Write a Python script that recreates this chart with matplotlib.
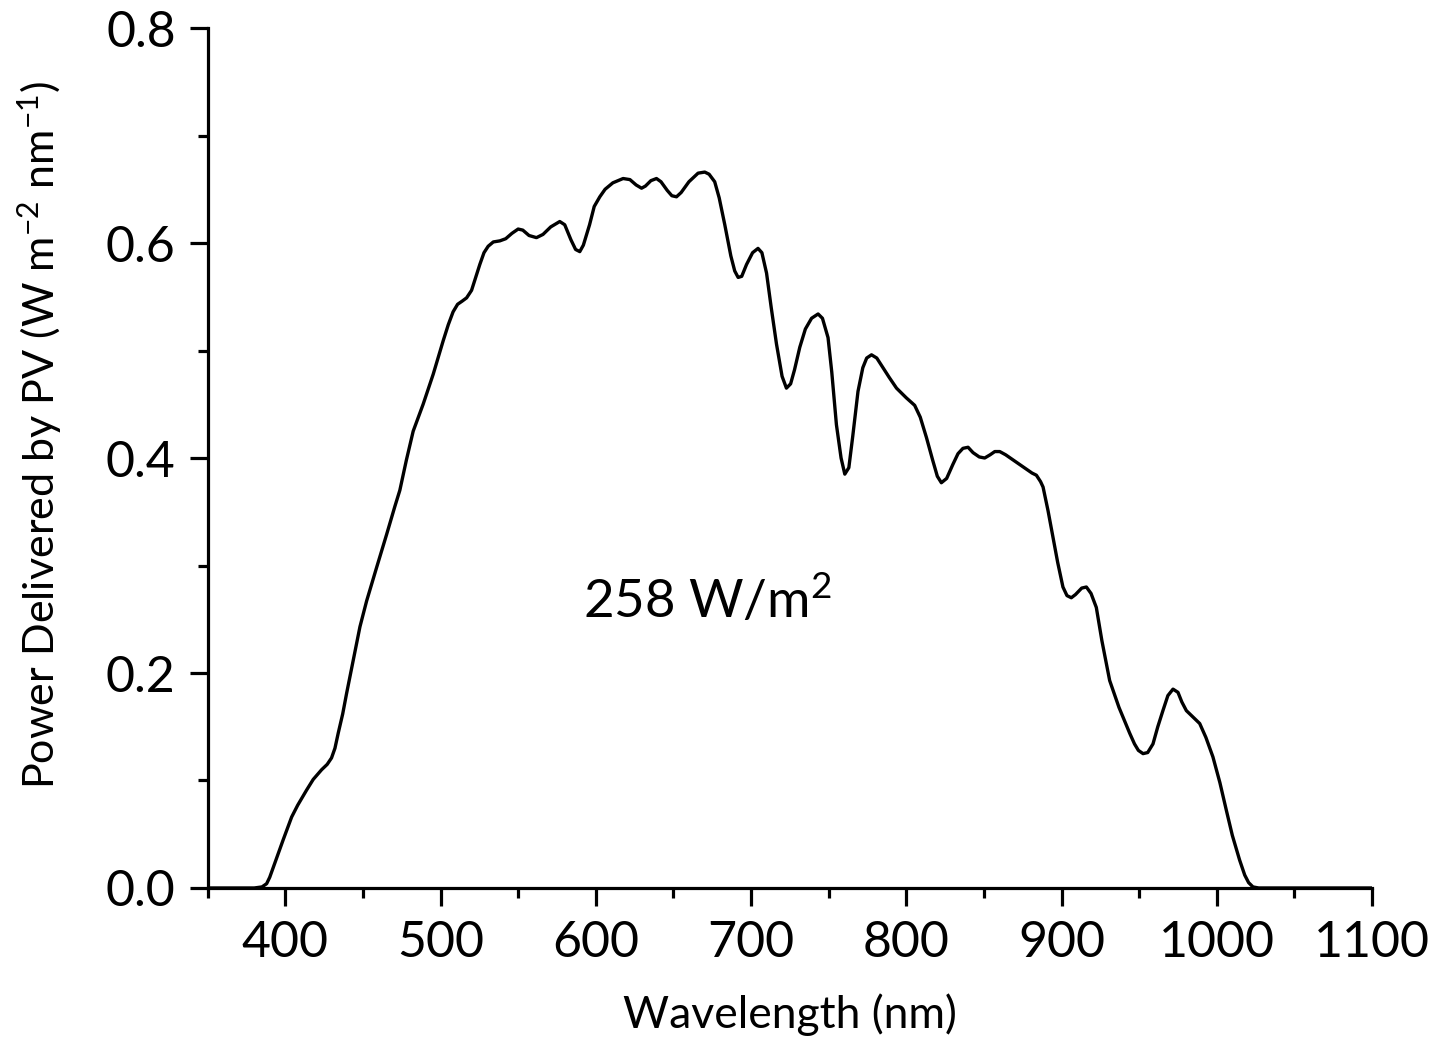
import numpy as np
import matplotlib.pyplot as plt
from matplotlib.ticker import MultipleLocator

# wavelength (nm) and power delivered by PV (W m^-2 nm^-1)
wavelength = [350, 370, 380, 385, 388, 390, 394, 398.7, 404.1, 408, 413.7, 418, 423.4,
              427, 429.8, 432, 434.1, 437, 439.5, 443.8, 448.1, 452.4, 458.8, 465.3,
              470.6, 473.8, 478, 482.4, 488.8, 495.3, 501.7, 505, 508.1, 511, 514,
              516.8, 520, 525.3, 528, 530.7, 534, 538.2, 542, 546, 550, 553, 557,
              561.8, 566, 571, 576.8, 580, 584, 587, 589.7, 592, 596, 599, 602.6,
              606, 611, 617.6, 622, 626, 629.5, 632, 635.5, 639.1, 642, 646, 649,
              652, 655, 660, 665.9, 670.2, 673, 676.6, 679.5, 683.1, 687, 689.5,
              691.7, 694, 697.1, 701, 704.5, 707, 710, 713, 716.4, 720, 722.8,
              725.5, 728, 731.4, 735, 739, 743.2, 746, 749.6, 752, 755, 758, 760.4,
              763, 765.5, 768.9, 772, 774.5, 777.6, 781, 785, 789, 793.7, 800,
              805.4, 809, 813, 817, 820, 822.6, 826, 830, 833.3, 836.5, 839.8,
              843, 847, 850.5, 854, 857, 860.2, 864, 868, 873.1, 878, 881, 883.8,
              886.5, 888.1, 891.3, 894.5, 897.5, 900.9, 903.5, 906.3, 909, 913,
              916, 919, 922.4, 926, 931, 937, 943.9, 947, 949.5, 952.5, 955.5,
              958.9, 962, 965.3, 968.5, 971.8, 975, 977.5, 980.4, 984, 989, 993,
              997.5, 1002, 1006.2, 1010, 1014.7, 1018, 1020.5, 1023.3, 1027, 1040,
              1070, 1100]
power = [0.0, 0.0, 0.0, 0.001, 0.004, 0.010, 0.026, 0.045, 0.066, 0.077, 0.091,
         0.101, 0.110, 0.115, 0.121, 0.130, 0.144, 0.162, 0.181, 0.212, 0.243,
         0.267, 0.298, 0.329, 0.355, 0.370, 0.398, 0.425, 0.450, 0.478, 0.509,
         0.524, 0.536, 0.543, 0.546, 0.549, 0.556, 0.580, 0.591, 0.597, 0.601,
         0.602, 0.604, 0.609, 0.613, 0.612, 0.607, 0.605, 0.608, 0.615, 0.620,
         0.617, 0.603, 0.594, 0.592, 0.598, 0.617, 0.634, 0.643, 0.650, 0.656,
         0.660, 0.659, 0.654, 0.651, 0.653, 0.658, 0.660, 0.657, 0.649, 0.644,
         0.643, 0.647, 0.657, 0.665, 0.666, 0.664, 0.657, 0.642, 0.617, 0.588,
         0.574, 0.568, 0.569, 0.580, 0.591, 0.595, 0.591, 0.572, 0.540, 0.506,
         0.476, 0.465, 0.469, 0.482, 0.503, 0.520, 0.530, 0.534, 0.530, 0.512,
         0.480, 0.431, 0.400, 0.385, 0.391, 0.420, 0.462, 0.484, 0.493, 0.496,
         0.493, 0.484, 0.475, 0.465, 0.456, 0.449, 0.438, 0.419, 0.398, 0.383,
         0.377, 0.381, 0.394, 0.404, 0.409, 0.410, 0.405, 0.401, 0.400, 0.403,
         0.406, 0.406, 0.403, 0.399, 0.394, 0.389, 0.386, 0.384, 0.378, 0.373,
         0.351, 0.326, 0.303, 0.280, 0.272, 0.270, 0.273, 0.279, 0.280, 0.274,
         0.261, 0.230, 0.193, 0.168, 0.144, 0.134, 0.128, 0.125, 0.126, 0.134,
         0.150, 0.165, 0.179, 0.185, 0.182, 0.173, 0.165, 0.160, 0.153, 0.140,
         0.122, 0.098, 0.072, 0.049, 0.026, 0.012, 0.005, 0.001, 0.0, 0.0,
         0.0, 0.0]

plt.rcParams['font.family'] = ['Lato', 'DejaVu Sans']
plt.rcParams['mathtext.default'] = 'regular'

fig = plt.figure(figsize=(14.31, 10.42), dpi=100)
ax = fig.add_axes([0.1451, 0.1478, 0.8137, 0.8253])

ax.plot(wavelength, power, color='black', linewidth=2.4,
        solid_joinstyle='round', solid_capstyle='round')

ax.set_xlim(350, 1100)
ax.set_ylim(0, 0.8)
ax.xaxis.set_major_locator(MultipleLocator(100))
ax.xaxis.set_minor_locator(MultipleLocator(50))
ax.yaxis.set_major_locator(MultipleLocator(0.2))
ax.yaxis.set_minor_locator(MultipleLocator(0.1))
ax.yaxis.set_major_formatter(plt.FuncFormatter(lambda v, p: f'{v:.1f}'))

for s in ['top', 'right']:
    ax.spines[s].set_visible(False)
for s in ['left', 'bottom']:
    ax.spines[s].set_linewidth(2.3)

ax.tick_params(which='major', direction='out', length=13, width=2.3,
               labelsize=36, pad=10)
ax.tick_params(which='minor', direction='out', length=7, width=2.3)

ax.set_xlabel('Wavelength (nm)', fontsize=32, labelpad=20)
ax.set_ylabel(r'Power Delivered by PV (W m$^{-2}$ nm$^{-1}$)',
              fontsize=31, labelpad=30)
ax.yaxis.label.set_y(0.527)

ax.text(672, 0.267, r'258 W/m$^{2}$', fontsize=38, ha='center', va='center')

fig.savefig('out.png', dpi=100)
